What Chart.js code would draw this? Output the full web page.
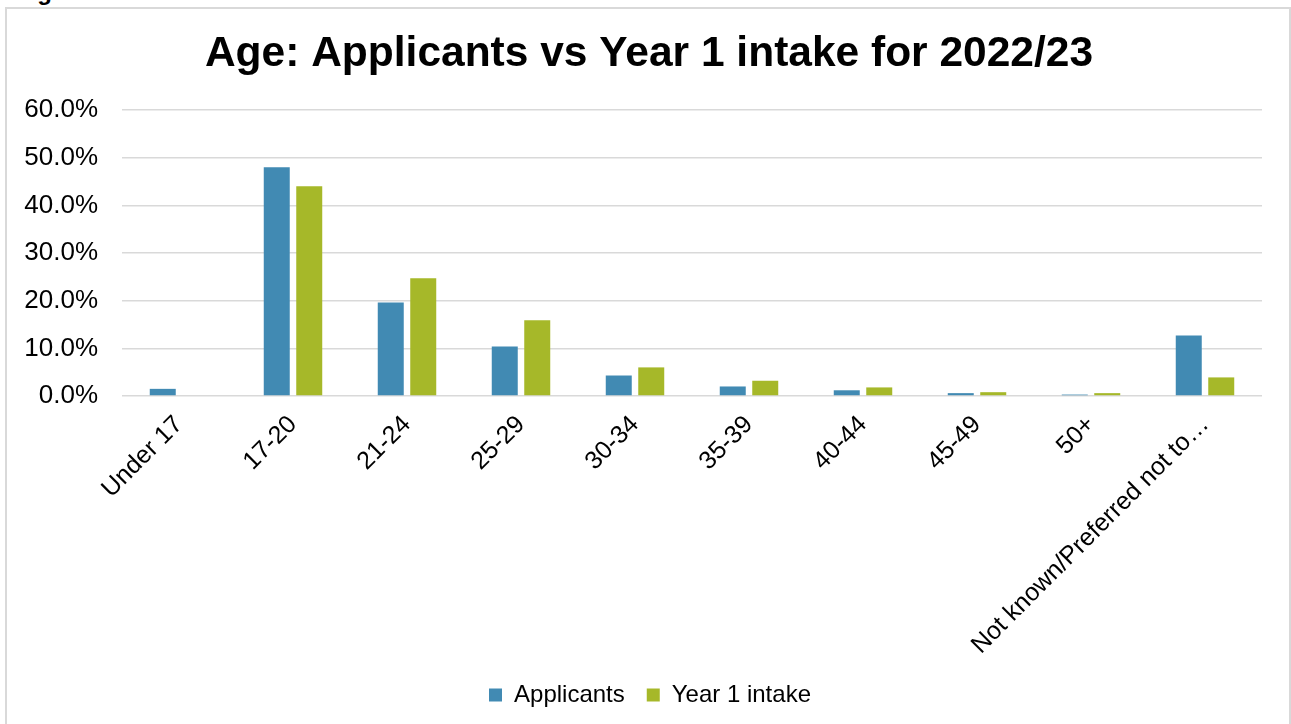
<!DOCTYPE html>
<html>
<head>
<meta charset="utf-8">
<title>Age: Applicants vs Year 1 intake for 2022/23</title>
<script src="https://cdn.jsdelivr.net/npm/chart.js@4/dist/chart.umd.min.js"></script>
<style>
    html, body {
        margin: 0;
        padding: 0;
        background: #ffffff;
        overflow: hidden;
    }
    #page {
        position: relative;
        width: 1291px;
        height: 724px;
    }
    #caption {
        position: absolute;
        left: 16px;
        top: -22px;
        font: bold 24px "Liberation Sans", Arial, sans-serif;
        color: #000000;
        white-space: nowrap;
    }
    #frame {
        position: absolute;
        left: 5px;
        top: 7px;
        width: 1282px;
        height: 740px;
        border: 2px solid #d9d9d9;
    }
    #chartBox {
        position: absolute;
        left: 0;
        top: 0;
        width: 1291px;
        height: 724px;
    }
</style>
</head>
<body>
<div id="page">
    <div id="caption">Figure 3a</div>
    <div id="frame"></div>
    <div id="chartBox"><canvas id="ageChart"></canvas></div>
</div>
<script>
// Age bands shown along the x axis
const ageBands = [
    'Under 17', '17-20', '21-24', '25-29', '30-34',
    '35-39', '40-44', '45-49', '50+', 'Not known/Preferred not to\u2026'
];

// Share of each group (%) per age band
const applicantShare = [1.5, 48.0, 19.6, 10.4, 4.3, 2.0, 1.2, 0.6, 0.3, 12.7];
const intakeShare = [0.0, 44.0, 24.7, 15.9, 6.0, 3.2, 1.8, 0.8, 0.6, 3.9];

// Y axis range and step (%)
const yMin = 0;
const yMax = 60;
const yStep = 10;

const FONT_FAMILY = '"Liberation Sans", Arial, sans-serif';
const BLUE = '#418ab3';
const GREEN = '#a6b829';
const GRID = '#d9d9d9';

// Title and legend sit centred on the outer frame rather than the padded area
const centreShift = {
    id: 'centreShift',
    afterLayout(chart) {
        if (chart.titleBlock) {
            chart.titleBlock.left += 13;
            chart.titleBlock.right += 13;
        }
        if (chart.legend) {
            chart.legend.left += 14;
            chart.legend.right += 14;
        }
    }
};

const ctx = document.getElementById('ageChart').getContext('2d');

const chart = new Chart(ctx, {
    type: 'bar',
    data: {
        labels: ageBands,
        datasets: [
            {
                label: 'Applicants',
                data: applicantShare,
                backgroundColor: BLUE,
                categoryPercentage: 0.57,
                barPercentage: 0.8
            },
            {
                label: 'Year 1 intake',
                data: intakeShare,
                backgroundColor: GREEN,
                categoryPercentage: 0.57,
                barPercentage: 0.8
            }
        ]
    },
    options: {
        responsive: true,
        maintainAspectRatio: false,
        animation: false,
        layout: {
            padding: { top: 8, left: 10, right: 29, bottom: 7 }
        },
        scales: {
            x: {
                grid: { display: false },
                border: { display: false },
                ticks: {
                    color: '#000000',
                    font: { family: FONT_FAMILY, size: 25 },
                    autoSkip: false,
                    minRotation: 45,
                    maxRotation: 45,
                    padding: 6
                },
                afterFit: function(scale) {
                    scale.height = 265;
                }
            },
            y: {
                min: yMin,
                max: yMax,
                grid: {
                    color: GRID,
                    lineWidth: 1.5,
                    drawTicks: false
                },
                border: { display: false },
                ticks: {
                    stepSize: yStep,
                    color: '#000000',
                    font: { family: FONT_FAMILY, size: 26 },
                    padding: 24,
                    callback: function(value) {
                        return value.toFixed(1) + '%';
                    }
                },
                afterFit: function(scale) {
                    scale.width = 112;
                }
            }
        },
        plugins: {
            title: {
                display: true,
                text: 'Age: Applicants vs Year 1 intake for 2022/23',
                color: '#000000',
                font: { family: FONT_FAMILY, size: 42.5, weight: 'bold' },
                padding: { top: 21, bottom: 30 }
            },
            legend: {
                position: 'bottom',
                labels: {
                    color: '#000000',
                    font: { family: FONT_FAMILY, size: 24 },
                    boxWidth: 13,
                    boxHeight: 13,
                    padding: 22
                }
            },
            tooltip: { enabled: false }
        }
    },
    plugins: [centreShift]
});
</script>
</body>
</html>
